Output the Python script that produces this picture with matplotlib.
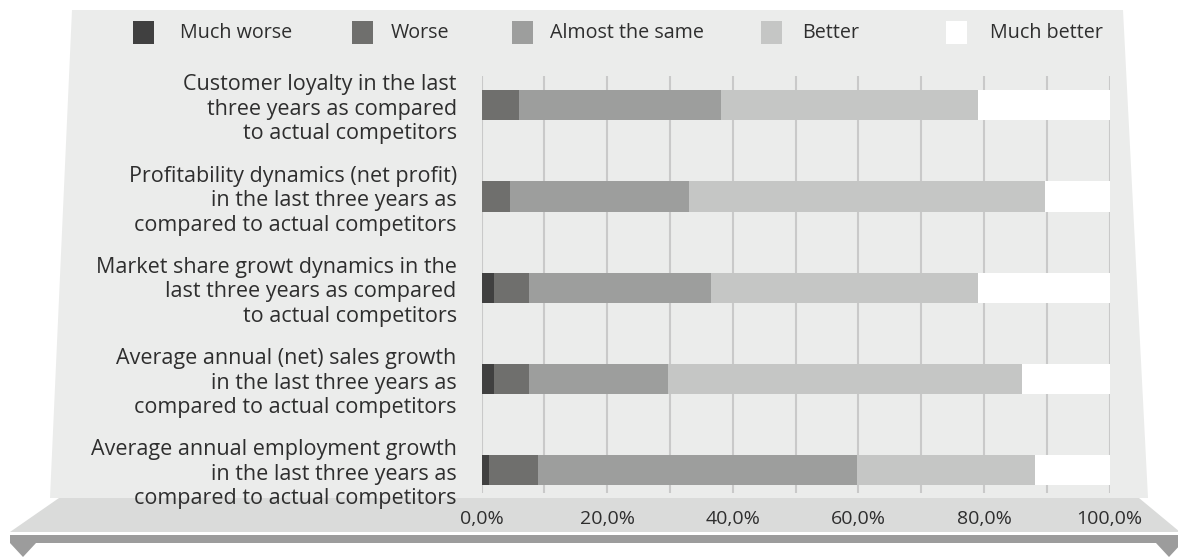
import numpy as np
import matplotlib
matplotlib.use("Agg")
import matplotlib.pyplot as plt
from matplotlib.patches import Polygon, Rectangle

plt.rcParams['font.family'] = ['Open Sans', 'DejaVu Sans']

# data (percent of respondents)
categories = [
    "Customer loyalty in the last\nthree years as compared\nto actual competitors",
    "Profitability dynamics (net profit)\nin the last three years as\ncompared to actual competitors",
    "Market share growt dynamics in the\nlast three years as compared\nto actual competitors",
    "Average annual (net) sales growth\nin the last three years as\ncompared to actual competitors",
    "Average annual employment growth\nin the last three years as\ncompared to actual competitors",
]
series_names = ["Much worse", "Worse", "Almost the same", "Better", "Much better"]
much_worse = [0.0, 0.0, 1.9, 1.9, 1.2]
worse = [6.0, 4.5, 5.7, 5.7, 7.8]
almost_same = [32.1, 28.5, 28.9, 22.1, 50.8]
better = [41.0, 56.7, 42.6, 56.4, 28.3]
much_better = [20.9, 10.3, 20.9, 13.9, 11.9]
xticks = [0, 20, 40, 60, 80, 100]
xtick_labels = ["0,0%", "20,0%", "40,0%", "60,0%", "80,0%", "100,0%"]

colors = ["#404040", "#6f6f6d", "#9d9e9d", "#c5c6c5", "#ffffff"]
txt = "#2e2e2e"

W, H = 1178, 557
fig = plt.figure(figsize=(W / 100, H / 100), dpi=100)
fig.patch.set_facecolor("white")

# background decoration in pixel coords
bg = fig.add_axes([0, 0, 1, 1], zorder=0)
bg.set_xlim(0, W)
bg.set_ylim(H, 0)
bg.axis("off")
bg.add_patch(Polygon([(72, 10), (1123, 10), (1148, 498), (50, 498)], closed=True,
                     facecolor="#ebeceb", edgecolor="none"))
bg.add_patch(Polygon([(59, 498), (1139, 498), (1180, 532), (10, 532)], closed=True,
                     facecolor="#dadbda", edgecolor="none"))
bg.add_patch(Rectangle((10, 535), 1170, 8, facecolor="#9c9c9c", edgecolor="none"))
bg.add_patch(Polygon([(10, 543), (36, 543), (23, 557)], closed=True,
                     facecolor="#9c9c9c", edgecolor="none"))
bg.add_patch(Polygon([(1156, 543), (1182, 543), (1169, 557)], closed=True,
                     facecolor="#9c9c9c", edgecolor="none"))

# legend drawn by hand
leg_sq_x = [133, 352, 512, 761, 946]
leg_txt_x = [180, 391, 550, 802, 990]
for i, name in enumerate(series_names):
    bg.add_patch(Rectangle((leg_sq_x[i], 21), 21, 23, facecolor=colors[i], edgecolor="none"))
    bg.text(leg_txt_x[i], 33, name, fontsize=14.2, color=txt, va="center", ha="left")

# main chart
ax = fig.add_axes([481.7 / W, 1 - 493 / H, (1109.6 - 481.7) / W, (493 - 76) / H], zorder=1)
ax.patch.set_alpha(0)
y = np.arange(len(categories))
left = np.zeros(len(categories))
for vals, c, name in zip([much_worse, worse, almost_same, better, much_better], colors, series_names):
    ax.barh(y, vals, left=left, height=0.33, color=c, edgecolor="none", label=name, zorder=2)
    left += np.array(vals)

ax.set_xlim(0, 100)
ax.set_ylim(4.25, -0.32)
ax.set_xticks(np.arange(0, 101, 10))
ax.grid(axis="x", color="#c9c9c9", linewidth=1.5, zorder=0)
ax.set_axisbelow(True)
ax.set_xticklabels(["" for _ in range(11)])
ax.tick_params(axis="both", length=0)
ax.set_yticks(y)
ax.set_yticklabels(categories, fontsize=15.5, color=txt, linespacing=1.22, ha="right")
ax.tick_params(axis="y", pad=18)
for s in ax.spines.values():
    s.set_visible(False)

# tick labels on the base slab
for v, lab in zip(xticks, xtick_labels):
    bg.text(481.7 + v * (1109.6 - 481.7) / 100, 519, lab, ha="center", va="center",
            fontsize=14, color=txt)

fig.savefig("out.png", dpi=100)
